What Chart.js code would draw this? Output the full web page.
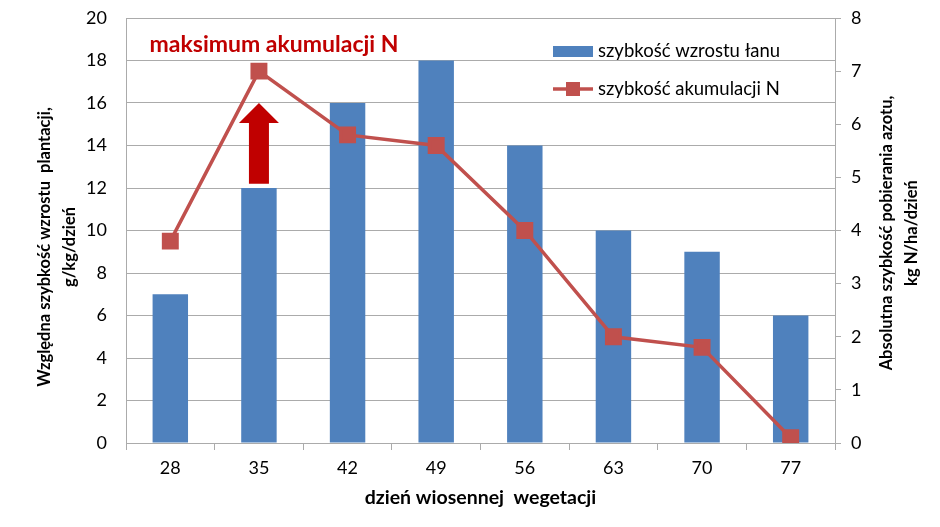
<!DOCTYPE html>
<html>
<head>
<meta charset="utf-8">
<script src="https://cdn.jsdelivr.net/npm/chart.js@4.4.1/dist/chart.umd.min.js"></script>
<style>
    html, body { margin: 0; padding: 0; background: #fff; }
    #wrap { width: 940px; height: 527px; }
</style>
</head>
<body>
<div id="wrap"><canvas id="chartWzrost"></canvas></div>
<script>
// dane
var dni = ['28', '35', '42', '49', '56', '63', '70', '77'];
var wzrostLanu = [7, 12, 16, 18, 14, 10, 9, 6];
var akumulacjaN = [3.8, 7.0, 5.8, 5.6, 4.0, 2.0, 1.8, 0.1];

var nazwaWzrost = 'szybkość wzrostu łanu';
var nazwaAkumulacja = 'szybkość akumulacji N';
var tytulX = 'dzień wiosennej  wegetacji';
var tytulY = ['Względna szybkość wzrostu  plantacji,', 'g/kg/dzień'];
var tytulY1 = ['Absolutna szybkość pobierania azotu,', 'kg N/ha/dzień'];
var napis = 'maksimum akumulacji N';
// strzałka: kategoria 35, od 12.2 do 16 (lewa oś)
var strzalka = { idx: 1, od: 12.2, do: 16 };
var napisPoz = { idx: 1.17, y: 18.75 };

var FONT = 'Lato, "Open Sans", sans-serif';
var NIEBIESKI = '#4F81BD';
var CZERWONY = '#C0504D';
var CIEMNY = '#C00000';
var SIATKA = '#ababab';

var dodatki = {
    id: 'dodatki',
    afterDatasetsDraw: function (chart) {
        var ctx = chart.ctx;
        var x = chart.scales.x, y = chart.scales.y;
        var area = chart.chartArea;
        ctx.save();

        // strzałka
        var cx = x.getPixelForValue(strzalka.idx);
        var yb = y.getPixelForValue(strzalka.od);
        var yt = y.getPixelForValue(strzalka.do);
        ctx.fillStyle = CIEMNY;
        ctx.beginPath();
        ctx.moveTo(cx - 10, yb);
        ctx.lineTo(cx + 10, yb);
        ctx.lineTo(cx + 10, yt + 20);
        ctx.lineTo(cx + 20, yt + 20);
        ctx.lineTo(cx, yt);
        ctx.lineTo(cx - 20, yt + 20);
        ctx.lineTo(cx - 10, yt + 20);
        ctx.closePath();
        ctx.fill();

        // napis
        var nx = area.left + (napisPoz.idx + 0.5) * (area.right - area.left) / dni.length;
        ctx.font = 'bold 23px ' + FONT;
        ctx.textAlign = 'center';
        ctx.textBaseline = 'middle';
        ctx.fillStyle = CIEMNY;
        ctx.fillText(napis, nx, y.getPixelForValue(napisPoz.y));

        // legenda
        var lx = 553;
        ctx.fillStyle = NIEBIESKI;
        ctx.fillRect(lx, 46, 40, 11);
        ctx.strokeStyle = CZERWONY;
        ctx.lineWidth = 3.5;
        ctx.beginPath();
        ctx.moveTo(lx, 89);
        ctx.lineTo(lx + 40, 89);
        ctx.stroke();
        ctx.fillStyle = CZERWONY;
        ctx.fillRect(lx + 13, 82, 14, 14);
        ctx.fillStyle = '#000';
        ctx.font = '18.5px ' + FONT;
        ctx.textAlign = 'left';
        ctx.fillText(nazwaWzrost, lx + 45, 51);
        ctx.fillText(nazwaAkumulacja, lx + 45, 89);

        // tytuły osi pionowych
        ctx.font = 'bold 16.5px ' + FONT;
        ctx.textAlign = 'center';
        ctx.textBaseline = 'middle';
        ctx.save();
        ctx.translate(45, 247);
        ctx.rotate(-Math.PI / 2);
        ctx.fillText(tytulY[0], 0, 0);
        ctx.fillText(tytulY[1], 0, 25);
        ctx.restore();
        ctx.save();
        ctx.translate(887, 233);
        ctx.rotate(-Math.PI / 2);
        ctx.fillText(tytulY1[0], 0, 0);
        ctx.fillText(tytulY1[1], 0, 25);
        ctx.restore();

        ctx.restore();
    }
};

var chartWzrost = new Chart(document.getElementById('chartWzrost'), {
    type: 'bar',
    data: {
        labels: dni,
        datasets: [{
                type: 'line',
                label: nazwaAkumulacja,
                data: akumulacjaN,
                yAxisID: 'y1',
                borderColor: CZERWONY,
                backgroundColor: CZERWONY,
                borderWidth: 3.5,
                pointStyle: 'rect',
                pointRadius: 9.5,
                pointHoverRadius: 9.5,
                tension: 0,
                order: 1
            }, {
                type: 'bar',
                label: nazwaWzrost,
                data: wzrostLanu,
                yAxisID: 'y',
                backgroundColor: NIEBIESKI,
                categoryPercentage: 0.8,
                barPercentage: 0.5,
                order: 2
            }]
    },
    options: {
        responsive: true,
        maintainAspectRatio: false,
        animation: false,
        layout: {
            padding: { top: 18, left: 0, right: 0, bottom: 0 }
        },
        plugins: {
            legend: { display: false },
            tooltip: { enabled: false }
        },
        scales: {
            x: {
                offset: true,
                grid: {
                    offset: true,
                    drawOnChartArea: false,
                    drawTicks: true,
                    tickLength: 7,
                    color: SIATKA
                },
                border: { color: SIATKA },
                ticks: {
                    color: '#000',
                    font: { family: FONT, size: 18 },
                    padding: 7
                },
                title: {
                    display: true,
                    text: tytulX,
                    color: '#000',
                    font: { family: FONT, size: 19.5, weight: 'bold' },
                    padding: { top: 0, bottom: 18 }
                },
                afterFit: function (s) { s.height = 84; }
            },
            y: {
                position: 'left',
                min: 0,
                max: 20,
                ticks: {
                    stepSize: 2,
                    color: '#000',
                    font: { family: FONT, size: 18 },
                    padding: 19
                },
                grid: { color: SIATKA, drawTicks: false },
                border: { color: SIATKA },
                afterFit: function (s) {
                    s.width = 126;
                    s.paddingTop = 0;
                    s.paddingBottom = 0;
                }
            },
            y1: {
                position: 'right',
                min: 0,
                max: 8,
                ticks: {
                    stepSize: 1,
                    color: '#000',
                    font: { family: FONT, size: 18 },
                    padding: 10
                },
                grid: {
                    drawOnChartArea: false,
                    drawTicks: true,
                    tickLength: 6,
                    color: SIATKA
                },
                border: { color: SIATKA },
                afterFit: function (s) {
                    s.width = 105;
                    s.paddingTop = 0;
                    s.paddingBottom = 0;
                }
            }
        }
    },
    plugins: [dodatki]
});
</script>
</body>
</html>
